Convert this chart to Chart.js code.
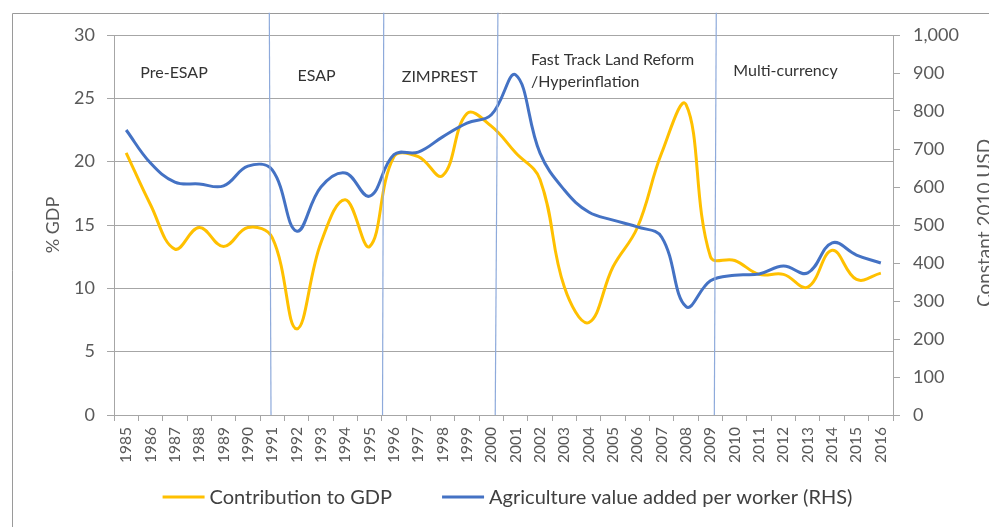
<!DOCTYPE html>
<html>
<head>
<meta charset="utf-8">
<script src="https://cdn.jsdelivr.net/npm/chart.js@4"></script>
<style>
  html, body { margin: 0; padding: 0; background: #fff; }
  #wrap { width: 989px; height: 527px; position: relative; }
</style>
</head>
<body>
<div id="wrap"><canvas id="chart"></canvas></div>
<script>
const years = ['1985', '1986', '1987', '1988', '1989', '1990', '1991', '1992', '1993', '1994', '1995',
  '1996', '1997', '1998', '1999', '2000', '2001', '2002', '2003', '2004', '2005', '2006',
  '2007', '2008', '2009', '2010', '2011', '2012', '2013', '2014', '2015', '2016'];

// % of GDP (left axis)
const gdpShare = [20.7, 16.6, 13.1, 14.8, 13.3, 14.8, 14.0, 6.8, 13.6, 17.0, 13.3,
  20.4, 20.4, 18.9, 23.8, 22.8, 20.7, 18.6, 10.1, 7.3, 11.7, 14.8,
  20.7, 24.5, 12.5, 12.2, 11.1, 11.1, 10.1, 13.0, 10.7, 11.2];

// constant 2010 USD (right axis)
const valuePerWorker = [750, 663, 613, 608, 603, 655, 645, 484, 600, 637, 576,
  685, 692, 732, 768, 790, 895, 689, 592, 534, 513, 495,
  468, 285, 353, 368, 371, 392, 374, 453, 421, 400];

// policy periods: label, where the label starts (year) and its height on the % GDP scale
const periodNames = ['Pre-ESAP', 'ESAP', 'ZIMPREST', 'Fast Track Land Reform\n/Hyperinflation', 'Multi-currency'];
const periodLabelYear = [1985.58, 1992.04, 1996.32, 2001.63, 2009.94];
const periodLabelLevel = [27.0, 26.8, 26.7, 28.0, 27.2];
// separator lines between periods: [year at top, year at bottom]
const periodBreaks = [[1990.88, 1990.95], [1995.58, 1995.53], [2000.27, 2000.16], [2009.24, 2009.16]];
const breakTopLevel = 31.75;

const FONT = 'Lato, "Open Sans", sans-serif';
const GRID = '#a6a6a6';
const TEXT = '#595959';

// chart frame like the spreadsheet export
const framePlugin = {
  id: 'frame',
  beforeDraw(chart) {
    const ctx = chart.ctx;
    ctx.save();
    ctx.strokeStyle = '#9a9a9a';
    ctx.lineWidth = 1;
    ctx.beginPath();
    ctx.moveTo(12.5, chart.height + 2);
    ctx.lineTo(12.5, 13.5);
    ctx.lineTo(chart.width + 2, 13.5);
    ctx.stroke();
    ctx.restore();
  }
};

function yearToIndex(y) {
  return y - Number(years[0]);
}

const periodsPlugin = {
  id: 'periods',
  afterDatasetsDraw(chart) {
    const ctx = chart.ctx;
    const x = chart.scales.x;
    const y = chart.scales.y;
    ctx.save();
    ctx.strokeStyle = '#8eaadb';
    ctx.lineWidth = 1.2;
    periodBreaks.forEach(([top, bottom]) => {
      ctx.beginPath();
      ctx.moveTo(x.getPixelForValue(yearToIndex(top)), y.getPixelForValue(breakTopLevel));
      ctx.lineTo(x.getPixelForValue(yearToIndex(bottom)), y.getPixelForValue(0));
      ctx.stroke();
    });

    ctx.fillStyle = '#333333';
    ctx.font = '16px ' + FONT;
    ctx.textAlign = 'left';
    ctx.textBaseline = 'middle';
    periodNames.forEach((name, i) => {
      const px = x.getPixelForValue(yearToIndex(periodLabelYear[i]));
      name.split('\n').forEach((line, j) => {
        const level = periodLabelLevel[i] - j * 1.7;
        ctx.fillText(line, px, y.getPixelForValue(level));
      });
    });

    // right axis title reads bottom-to-top like the left one
    const r = chart.scales.y2;
    ctx.fillStyle = TEXT;
    ctx.font = '19px ' + FONT;
    ctx.translate(975, (r.top + r.bottom) / 2 - 2);
    ctx.rotate(-Math.PI / 2);
    ctx.textAlign = 'center';
    ctx.textBaseline = 'top';
    ctx.fillText('Constant 2010 USD', 0, 0);
    ctx.restore();
  }
};

// legend drawn by hand so the gap between the two entries can be wide
const legendPlugin = {
  id: 'lineLegend',
  afterDraw(chart) {
    const ctx = chart.ctx;
    const sample = 42, textGap = 5, itemGap = 50;
    ctx.save();
    ctx.font = '20px ' + FONT;
    const sets = chart.data.datasets;
    const widths = sets.map((d) => ctx.measureText(d.label).width);
    const total = widths.reduce((a, w) => a + w + sample + textGap, 0) + itemGap * (sets.length - 1);
    const cx = (chart.scales.y.left + chart.width) / 2 - 5;
    let px = cx - total / 2;
    const py = 497;
    ctx.textAlign = 'left';
    ctx.textBaseline = 'middle';
    sets.forEach((d, i) => {
      ctx.strokeStyle = d.borderColor;
      ctx.lineWidth = d.borderWidth;
      ctx.beginPath();
      ctx.moveTo(px, py);
      ctx.lineTo(px + sample, py);
      ctx.stroke();
      ctx.fillStyle = '#404040';
      ctx.fillText(d.label, px + sample + textGap, py + 1);
      px += sample + textGap + widths[i] + itemGap;
    });
    ctx.restore();
  }
};

new Chart(document.getElementById('chart'), {
  type: 'line',
  data: {
    labels: years,
    datasets: [
      {
        label: 'Contribution to GDP',
        data: gdpShare,
        yAxisID: 'y',
        borderColor: '#ffc000',
        backgroundColor: '#ffc000',
        borderWidth: 3,
        pointRadius: 0,
        tension: 0.4,
        order: 1,
      },
      {
        label: 'Agriculture value added per worker (RHS)',
        data: valuePerWorker,
        yAxisID: 'y2',
        borderColor: '#4472c4',
        backgroundColor: '#4472c4',
        borderWidth: 3,
        pointRadius: 0,
        tension: 0.4,
        order: 0,
      },
    ],
  },
  options: {
    responsive: true,
    maintainAspectRatio: false,
    animation: false,
    layout: { padding: { left: 36, right: 0, top: 35, bottom: 0 } },
    plugins: {
      tooltip: { enabled: false },
      legend: { display: false },
    },
    scales: {
      x: {
        type: 'category',
        offset: true,
        grid: { offset: true, drawOnChartArea: false, color: GRID, tickLength: 6 },
        border: { color: GRID },
        ticks: {
          autoSkip: false,
          minRotation: 90,
          maxRotation: 90,
          padding: 6,
          color: TEXT,
          font: { family: FONT, size: 15.5 },
        },
        afterFit: (s) => { s.height = 112; },
      },
      y: {
        position: 'left',
        min: 0,
        max: 30,
        ticks: { stepSize: 5, padding: 12, color: TEXT, font: { family: FONT, size: 18 } },
        grid: { color: GRID, tickLength: 7 },
        border: { color: GRID },
        title: {
          display: true,
          text: '% GDP',
          color: TEXT,
          font: { family: FONT, size: 18 },
          padding: { top: 6, bottom: 0 },
        },
        afterFit: (s) => { s.width = 78; },
      },
      y2: {
        position: 'right',
        min: 0,
        max: 1000,
        ticks: {
          stepSize: 100,
          padding: 13,
          color: TEXT,
          font: { family: FONT, size: 18 },
          callback: (v) => v.toLocaleString('en-US'),
        },
        grid: { drawOnChartArea: false, color: GRID, tickLength: 7 },
        border: { color: GRID },
        afterFit: (s) => { s.width = 96; },
      },
    },
  },
  plugins: [framePlugin, periodsPlugin, legendPlugin],
});
</script>
</body>
</html>
